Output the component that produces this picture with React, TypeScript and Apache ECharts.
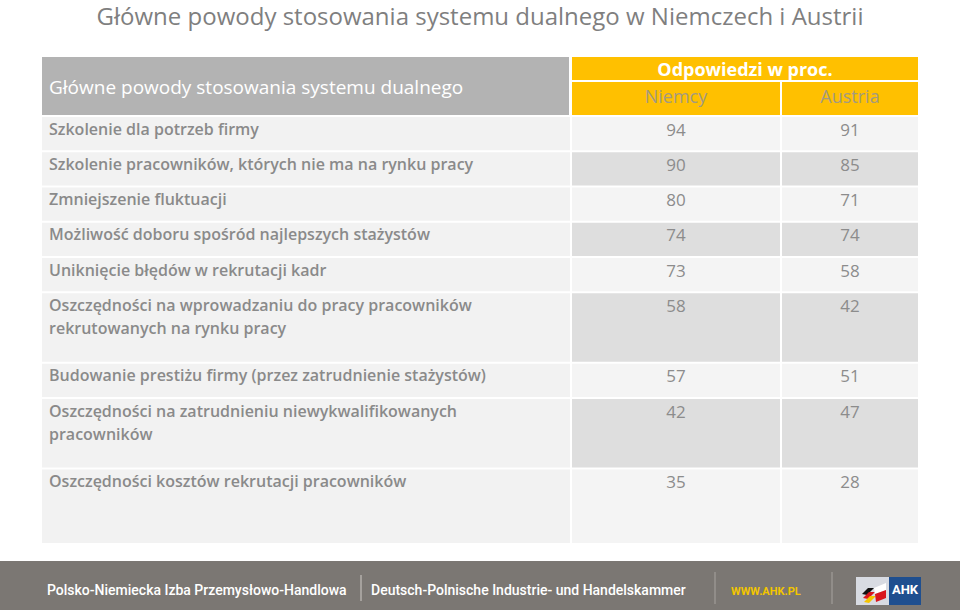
import React, { useEffect, useRef } from "react";
import * as echarts from "echarts";

const titleText = "Główne powody stosowania systemu dualnego w Niemczech i Austrii";
const headerLabel = "Główne powody stosowania systemu dualnego";
const headerGroup = "Odpowiedzi w proc.";
const columns = ["Niemcy", "Austria"];

const categories = [
  "Szkolenie dla potrzeb firmy",
  "Szkolenie pracowników, których nie ma na rynku pracy",
  "Zmniejszenie fluktuacji",
  "Możliwość doboru spośród najlepszych stażystów",
  "Uniknięcie błędów w rekrutacji kadr",
  "Oszczędności na wprowadzaniu do pracy pracowników\nrekrutowanych na rynku pracy",
  "Budowanie prestiżu firmy (przez zatrudnienie stażystów)",
  "Oszczędności na zatrudnieniu niewykwalifikowanych\npracowników",
  "Oszczędności kosztów rekrutacji pracowników",
];
const niemcy = [94, 90, 80, 74, 73, 58, 57, 42, 35];
const austria = [91, 85, 71, 74, 58, 42, 51, 47, 28];

const footerLeft = "Polsko-Niemiecka Izba Przemysłowo-Handlowa";
const footerMid = "Deutsch-Polnische Industrie- und Handelskammer";
const footerWeb = "WWW.AHK.PL";
const logoText = "AHK";

export default function App() {
  const ref = useRef<HTMLDivElement>(null);

  useEffect(() => {
    if (!ref.current) return;
    const chart = echarts.init(ref.current, null, { renderer: "svg" });

    // layout
    const FONT = "'Open Sans', sans-serif";
    const tableTop = 117;
    const lineUnit = 35.25;
    const tableBottom = 543;
    const rowTops: number[] = [];
    const rowHeights: number[] = [];
    let y = tableTop;
    categories.forEach((c, i) => {
      const lines = c.split("\n").length;
      rowTops.push(y);
      let h = lines * lineUnit;
      if (i === categories.length - 1) h = tableBottom + 2 - y;
      rowHeights.push(h);
      y += h;
    });
    const labX0 = 42, labX1 = 570;
    const c1X0 = 572, c1X1 = 780;
    const c2X0 = 782, c2X1 = 918;

    const renderItem = (params: any, api: any) => {
      const i = api.value(0);
      const top = rowTops[i];
      const h = rowHeights[i] - 2;
      const p0 = api.coord([labX0, top]);
      const pl = api.coord([labX1, top + h]);
      const p1 = api.coord([c1X0, top]);
      const p1e = api.coord([c1X1, top + h]);
      const p2 = api.coord([c2X0, top]);
      const p2e = api.coord([c2X1, top + h]);
      const dataFill = i % 2 === 1 ? "#dedede" : "#f4f4f4";
      return {
        type: "group",
        children: [
          { type: "rect", shape: { x: p0[0], y: p0[1], width: pl[0] - p0[0], height: pl[1] - p0[1] }, style: { fill: "#f2f2f2" } },
          { type: "rect", shape: { x: p1[0], y: p1[1], width: p1e[0] - p1[0], height: p1e[1] - p1[1] }, style: { fill: dataFill } },
          { type: "rect", shape: { x: p2[0], y: p2[1], width: p2e[0] - p2[0], height: p2e[1] - p2[1] }, style: { fill: dataFill } },
          {
            type: "text",
            x: p0[0] + 7,
            y: p0[1] + 0,
            style: {
              text: categories[i],
              fill: "#8a8a8a",
              font: `600 16px ${FONT}`,
              lineHeight: 23,
              textAlign: "left",
              textVerticalAlign: "top",
            },
          },
          {
            type: "text",
            x: (p1[0] + p1e[0]) / 2,
            y: p1[1] + 12,
            style: { text: String(api.value(1)), fill: "#8c8c8c", font: `400 17px ${FONT}`, textAlign: "center", textVerticalAlign: "middle" },
          },
          {
            type: "text",
            x: (p2[0] + p2e[0]) / 2,
            y: p2[1] + 12,
            style: { text: String(api.value(2)), fill: "#8c8c8c", font: `400 17px ${FONT}`, textAlign: "center", textVerticalAlign: "middle" },
          },
        ],
      };
    };

    const option: any = {
      animation: false,
      backgroundColor: "#ffffff",
      grid: { left: 0, right: 0, top: 0, bottom: 0 },
      xAxis: { type: "value", min: 0, max: 960, show: false },
      yAxis: { type: "value", min: 0, max: 610, inverse: true, show: false },
      series: [
        {
          type: "custom",
          clip: false,
          renderItem,
          encode: { x: 1, y: 2 },
          data: categories.map((c, i) => [i, niemcy[i], austria[i]]),
        },
      ],
      graphic: [
        {
          type: "text",
          x: 480,
          y: 15,
          style: { text: titleText, fill: "#7f7f7f", font: `400 24px ${FONT}`, textAlign: "center", textVerticalAlign: "middle" },
        },
        { type: "rect", shape: { x: 42, y: 57, width: 527, height: 58 }, style: { fill: "#b3b3b3" } },
        {
          type: "text",
          x: 49,
          y: 87,
          style: { text: headerLabel, fill: "#ffffff", font: `400 19px ${FONT}`, textVerticalAlign: "middle" },
        },
        { type: "rect", shape: { x: 572, y: 57, width: 346, height: 23 }, style: { fill: "#ffc000" } },
        {
          type: "text",
          x: 745,
          y: 69,
          style: { text: headerGroup, fill: "#ffffff", font: `700 18px ${FONT}`, textAlign: "center", textVerticalAlign: "middle" },
        },
        { type: "rect", shape: { x: 572, y: 82, width: 208, height: 33 }, style: { fill: "#ffc000" } },
        { type: "rect", shape: { x: 782, y: 82, width: 136, height: 33 }, style: { fill: "#ffc000" } },
        {
          type: "text",
          x: 676,
          y: 96,
          style: { text: columns[0], fill: "#a39a80", font: `400 18px ${FONT}`, textAlign: "center", textVerticalAlign: "middle" },
        },
        {
          type: "text",
          x: 850,
          y: 96,
          style: { text: columns[1], fill: "#a39a80", font: `400 18px ${FONT}`, textAlign: "center", textVerticalAlign: "middle" },
        },
        // footer
        { type: "rect", shape: { x: 0, y: 561, width: 960, height: 49 }, style: { fill: "#7b7773" } },
        {
          type: "text",
          x: 47,
          y: 590,
          style: { text: footerLeft, fill: "#ffffff", font: `500 14px Roboto, sans-serif`, textVerticalAlign: "middle" },
        },
        { type: "line", shape: { x1: 361, y1: 575, x2: 361, y2: 601 }, style: { stroke: "#d0ccc8", lineWidth: 1 } },
        {
          type: "text",
          x: 371,
          y: 590,
          style: { text: footerMid, fill: "#ffffff", font: `500 14px Roboto, sans-serif`, textVerticalAlign: "middle" },
        },
        { type: "line", shape: { x1: 715, y1: 572, x2: 715, y2: 604 }, style: { stroke: "#a8a4a0", lineWidth: 1 } },
        {
          type: "text",
          x: 731,
          y: 591,
          style: { text: footerWeb, fill: "#f2c500", font: `700 11px Roboto, sans-serif`, textVerticalAlign: "middle" },
        },
        { type: "line", shape: { x1: 832, y1: 572, x2: 832, y2: 604 }, style: { stroke: "#a8a4a0", lineWidth: 1 } },
        // logo
        { type: "rect", shape: { x: 856, y: 577, width: 33, height: 28 }, style: { fill: "#d8dbe2" } },
        { type: "rect", shape: { x: 889, y: 577, width: 32, height: 28 }, style: { fill: "#1f4f8f" } },
        { type: "polygon", shape: { points: [[862, 594], [868, 588], [874, 588], [867, 595]] }, style: { fill: "#111111" } },
        { type: "polygon", shape: { points: [[863, 598], [869, 592], [875, 592], [868, 599]] }, style: { fill: "#d9161e" } },
        { type: "polygon", shape: { points: [[864, 602], [870, 596], [876, 596], [869, 603]] }, style: { fill: "#f5c400" } },
        { type: "polygon", shape: { points: [[874, 588], [886, 583], [886, 590], [875, 594]] }, style: { fill: "#ffffff" } },
        { type: "polygon", shape: { points: [[875, 594], [886, 590], [886, 598], [876, 602]] }, style: { fill: "#d9161e" } },
        {
          type: "text",
          x: 905,
          y: 589,
          style: { text: logoText, fill: "#ffffff", font: `700 13px Roboto, sans-serif`, textAlign: "center", textVerticalAlign: "middle" },
        },
      ],
    };

    chart.setOption(option);
    return () => chart.dispose();
  }, []);

  return (
    <div
      ref={ref}
      style={{ position: "fixed", left: 0, top: 0, width: 960, height: 610 }}
    />
  );
}
